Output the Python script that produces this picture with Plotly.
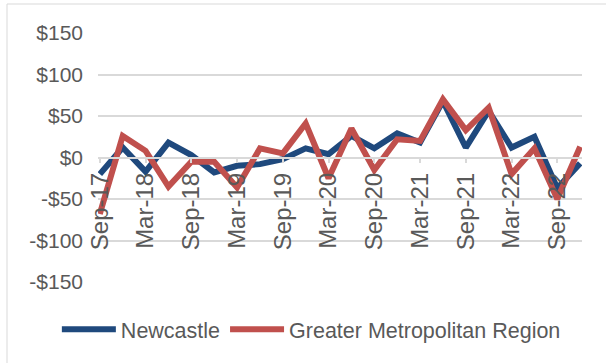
import plotly.graph_objects as go

# Quarterly change, Sep-17 to Dec-22
quarters = ["Sep-17", "Dec-17", "Mar-18", "Jun-18", "Sep-18", "Dec-18", "Mar-19", "Jun-19",
            "Sep-19", "Dec-19", "Mar-20", "Jun-20", "Sep-20", "Dec-20", "Mar-21", "Jun-21",
            "Sep-21", "Dec-21", "Mar-22", "Jun-22", "Sep-22", "Dec-22"]
newcastle = [-20, 12, -17, 18, 3, -18, -10, -8, -2, 11, 4, 26, 11, 29, 18, 68, 12, 56, 12, 25, -37, -7]
greater_metro = [-68, 26, 8, -35, -5, -5, -36, 11, 5, 41, -25, 35, -15, 22, 20, 70, 33, 60, -20, 11, -50, 13]

y_tick_vals = [-150, -100, -50, 0, 50, 100, 150]
y_tick_text = ["-$150", "-$100", "-$50", "$0", "$50", "$100", "$150"]

idx = list(range(len(quarters)))
label_idx = idx[::2]
label_text = [quarters[i] for i in label_idx]

grey_text = "#595959"
grid = "#D9D9D9"
font_family = "Liberation Sans, Arial, sans-serif"

fig = go.Figure()
fig.add_trace(go.Scatter(x=idx, y=newcastle, mode="lines", name="Newcastle",
                         line=dict(color="#1F497D", width=6)))
fig.add_trace(go.Scatter(x=idx, y=greater_metro, mode="lines", name="Greater Metropolitan Region",
                         line=dict(color="#C0504D", width=6)))

fig.update_layout(
    width=606, height=363,
    margin=dict(l=98, r=24, t=33, b=81, autoexpand=False),
    paper_bgcolor="white", plot_bgcolor="white",
    font=dict(family=font_family, color=grey_text, size=21),
    showlegend=True,
    legend=dict(orientation="h", x=-0.085, xanchor="left", y=-0.19, yanchor="middle",
                font=dict(size=21.5, color=grey_text), itemwidth=54,
                bgcolor="rgba(0,0,0,0)"),
    xaxis=dict(
        range=[-0.08, 21.08],
        anchor="free", position=0.5,
        showline=True, linecolor=grid, linewidth=1.5,
        showgrid=False, zeroline=False,
        tickmode="array", tickvals=label_idx, ticktext=label_text,
        tickangle=-90, ticks="outside", ticklen=5, tickcolor=grid, tickwidth=1.5,
        tickfont=dict(size=24, color=grey_text),
    ),
    yaxis=dict(
        range=[-150, 150],
        tickmode="array", tickvals=y_tick_vals, ticktext=y_tick_text,
        showgrid=True, gridcolor=grid, gridwidth=1.5,
        zeroline=False, showline=False,
        ticklabelstandoff=14,
        tickfont=dict(size=21, color=grey_text),
    ),
    shapes=[dict(type="rect", xref="paper", yref="paper",
                 x0=(7 - 98) / 484, x1=(612 - 98) / 484,
                 y0=(282 - 370) / 249, y1=(282 - 4) / 249,
                 line=dict(color=grid, width=1), fillcolor="rgba(0,0,0,0)", layer="below")],
)

fig.write_html("out.html")
